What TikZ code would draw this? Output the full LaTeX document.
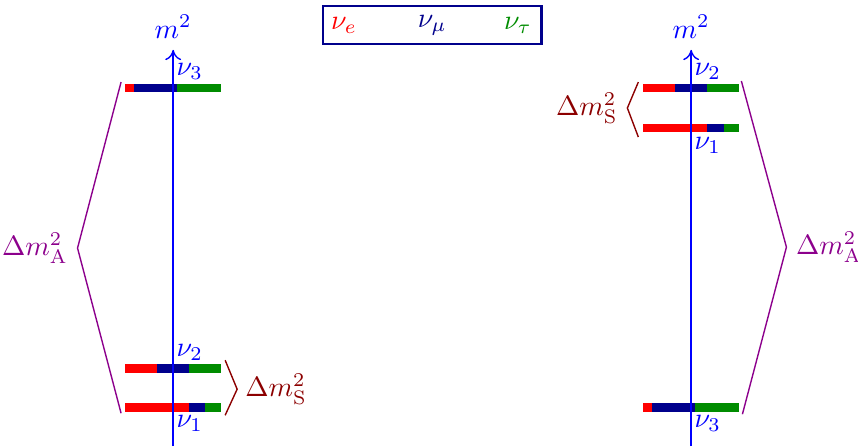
\documentclass[tikz,border=0pt]{standalone}
\usepackage{amsmath}
\usetikzlibrary{arrows.meta,positioning}
\definecolor{nue}{RGB}{255,0,0}
\definecolor{numu}{RGB}{0,0,140}
\definecolor{nutau}{RGB}{0,140,0}
\definecolor{solar}{RGB}{140,0,0}
\definecolor{atm}{RGB}{140,0,140}
\tikzset{
  massaxis/.style={draw=blue, line width=0.5pt, -{To[length=1.3mm,width=2mm]}},
  nulab/.style={text=blue, inner sep=1pt},
  brk/.style={line width=0.5pt},
  dlab/.style={inner sep=1pt},
  legbox/.style={draw=numu, line width=0.8pt, minimum width=2.75cm,
                 minimum height=0.48cm},
}
\begin{document}
\begin{tikzpicture}
\useasboundingbox (0,0) rectangle (10.8,5.617);
% mass bars: left x / y / e fraction / mu fraction
\foreach \x/\y/\e/\m in {1.574/4.51/0.09/0.45, 1.574/0.982/0.333/0.333,
                         1.574/0.491/0.667/0.167, 8.098/4.51/0.333/0.333,
                         8.098/4.005/0.667/0.167, 8.098/0.491/0.09/0.45} {
  \fill[nue] (\x,\y-0.055) rectangle ++(1.21*\e,0.11);
  \fill[numu] (\x+1.21*\e,\y-0.055) rectangle ++(1.21*\m,0.11);
  \fill[nutau] (\x+1.21*\e+1.21*\m,\y-0.055) rectangle (\x+1.21,\y+0.055);
}
% axes
\coordinate (lbot) at (2.18,0);
\coordinate (ltop) at (2.18,4.99);
\coordinate (rbot) at (8.70,0);
\coordinate (rtop) at (8.70,4.99);
\draw[massaxis] (lbot) -- (ltop);
\draw[massaxis] (rbot) -- (rtop);
\node[nulab, above=3pt of ltop] (lm2) {$m^2$};
\node[nulab, above=3pt of rtop] (rm2) {$m^2$};
% state labels
\node[nulab, anchor=south west] (lnu3) at (2.18,4.57) {$\nu_3$};
\node[nulab, anchor=south west] (lnu2) at (2.18,1.04) {$\nu_2$};
\node[nulab, anchor=north west] (lnu1) at (2.18,0.43) {$\nu_1$};
\node[nulab, anchor=south west] (rnu2) at (8.70,4.57) {$\nu_2$};
\node[nulab, anchor=north west] (rnu1) at (8.70,3.93) {$\nu_1$};
\node[nulab, anchor=north west] (rnu3) at (8.70,0.43) {$\nu_3$};
% brackets
\coordinate (latop) at (1.524,4.584);
\coordinate (latip) at (0.976,2.494);
\coordinate (labot) at (1.524,0.416);
\coordinate (ratop) at (9.332,4.597);
\coordinate (ratip) at (9.899,2.506);
\coordinate (rabot) at (9.345,0.403);
\coordinate (lstop) at (2.834,1.083);
\coordinate (lstip) at (2.985,0.718);
\coordinate (lsbot) at (2.834,0.39);
\coordinate (rstop) at (8.035,4.584);
\coordinate (rstip) at (7.897,4.257);
\coordinate (rsbot) at (8.035,3.892);
\draw[atm, brk] (latop) -- (latip) -- (labot);
\draw[atm, brk] (ratop) -- (ratip) -- (rabot);
\draw[solar, brk] (lstop) -- (lstip) -- (lsbot);
\draw[solar, brk] (rstop) -- (rstip) -- (rsbot);
\node[atm, dlab, left=0.08cm of latip] (ldma) {$\Delta m^2_{\mathrm{A}}$};
\node[atm, dlab, right=0.08cm of ratip] (rdma) {$\Delta m^2_{\mathrm{A}}$};
\node[solar, dlab, right=0.06cm of lstip] (ldms) {$\Delta m^2_{\mathrm{S}}$};
\node[solar, dlab, left=0.08cm of rstip] (rdms) {$\Delta m^2_{\mathrm{S}}$};
% flavour legend
\node[legbox] (legend) at (5.44,5.30) {};
\node[text=nue] (lege) at (4.33,5.30) {$\nu_e$};
\node[text=numu] (legmu) at (5.44,5.30) {$\nu_\mu$};
\node[text=nutau] (legtau) at (6.52,5.30) {$\nu_\tau$};
\end{tikzpicture}
\end{document}
